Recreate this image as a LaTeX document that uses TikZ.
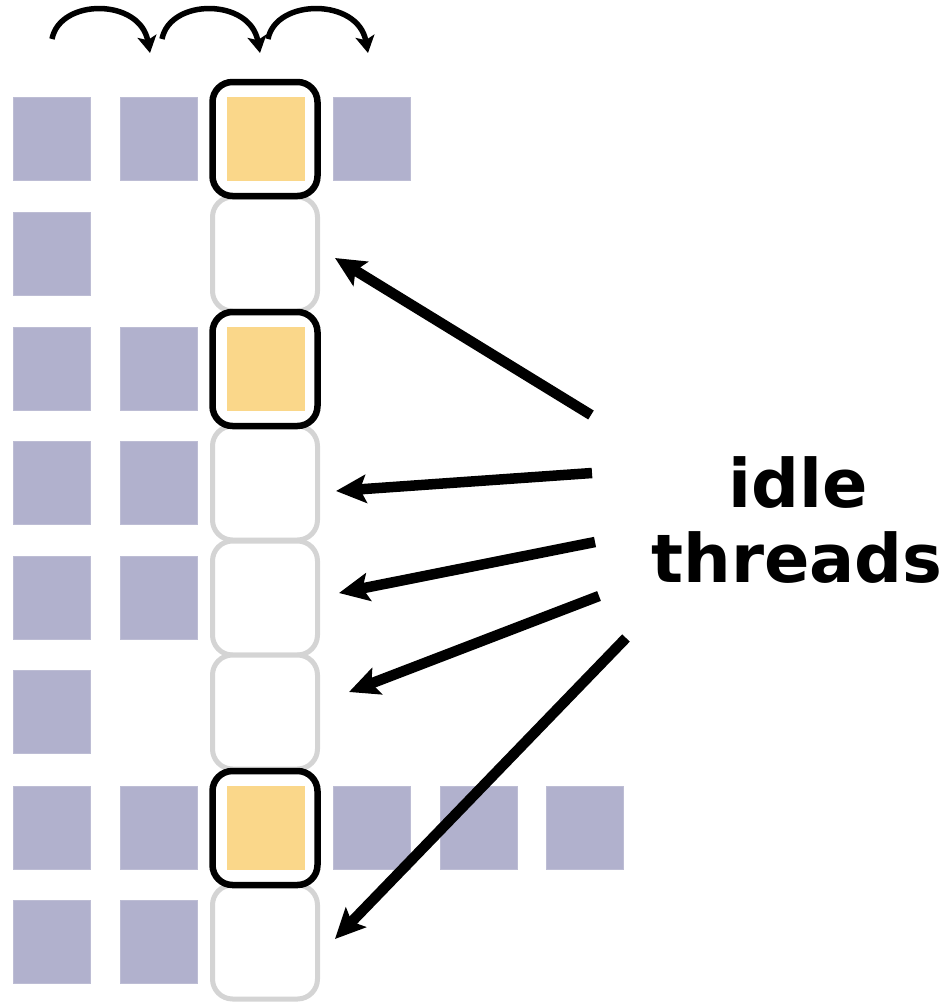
\documentclass[tikz,border=0pt]{standalone}
\usepackage{fontspec}
\setmainfont{DejaVu Sans}
\usetikzlibrary{arrows.meta}
\definecolor{cellc}{HTML}{B1B1CD}
\definecolor{hotc}{HTML}{FAD78A}
\definecolor{idlec}{HTML}{D4D4D4}
\begin{document}
\begin{tikzpicture}[x=1pt,y=-1pt,
  cell/.style={fill=cellc,draw=cellc!85!white,line width=0.8pt,minimum width=77pt,minimum height=83pt,inner sep=0pt,outer sep=0pt},
  hot/.style={cell,fill=hotc,draw=hotc},
  idlebox/.style={draw=idlec,line width=5pt,fill=white,rounded corners=20pt,minimum width=105pt,minimum height=114pt,inner sep=0pt},
  busybox/.style={draw=black,line width=6.5pt,rounded corners=20pt,minimum width=105pt,minimum height=114pt,inner sep=0pt},
  pointer/.style={line width=10.5pt,-{Stealth[length=30pt,width=28pt,inset=6pt]}},
  hop/.style={line width=5.5pt,-{Stealth[length=17pt,width=19pt,inset=4pt]}},
  lbl/.style={font=\bfseries\fontsize{67}{75}\selectfont,inner sep=0pt,anchor=base}]
\useasboundingbox (0,0) rectangle (949,1002);
% column 3 boxes
\foreach \r/\y in {1/139,2/254,3/369,4/483,5/598,6/712,7/828,8/942}
  \node[idlebox] (b\r) at (265,\y) {};
\node[busybox] (k1) at (265,139) {};
\node[busybox] (k3) at (265,369) {};
\node[busybox] (k7) at (265,828) {};
% cells
\foreach \r/\y/\cols in {1/139/{1,2,4},2/254/{1},3/369/{1,2},4/483/{1,2},5/598/{1,2},6/712/{1},7/828/{1,2,4,5,6},8/942/{1,2}}
  \foreach \c in \cols
    \node[cell] (c\r-\c) at ({52+106.6*(\c-1)},\y) {};
\node[hot] (h1) at (265.5,139) {};
\node[hot] (h3) at (265.5,369) {};
\node[hot] (h7) at (265.5,828) {};
% top hops
\coordinate (p0) at (52,39);
\coordinate (q1) at (150,53);
\coordinate (p1) at (162,39);
\coordinate (q2) at (260,53);
\coordinate (p2) at (268,39);
\coordinate (q3) at (368,53);
\draw[hop] (p0) .. controls (60,-2) and (140,-2) .. (q1);
\draw[hop] (p1) .. controls (170,-2) and (250,-2) .. (q2);
\draw[hop] (p2) .. controls (276,-2) and (358,-2) .. (q3);
% label
\node[lbl] (w1) at (798,507) {idle};
\node[lbl] (w2) at (797,582) {threads};
% pointers
\coordinate (s1) at (591,415); \coordinate (t1) at (335,258);
\coordinate (s2) at (592,473); \coordinate (t2) at (336,491);
\coordinate (s3) at (595,542); \coordinate (t3) at (339,593);
\coordinate (s4) at (599,596); \coordinate (t4) at (349,692);
\coordinate (s5) at (626,638); \coordinate (t5) at (335,939);
\foreach \i in {1,...,5} \draw[pointer] (s\i) -- (t\i);
\end{tikzpicture}
\end{document}
